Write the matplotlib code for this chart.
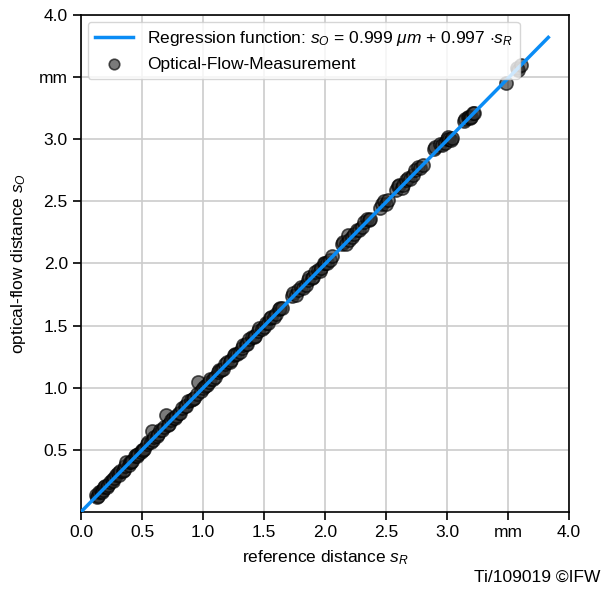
import matplotlib.pyplot as plt
import numpy as np

plt.rcParams['font.family'] = ['Liberation Sans', 'DejaVu Sans']
plt.rcParams['mathtext.fontset'] = 'custom'
plt.rcParams['mathtext.rm'] = 'Liberation Sans'
plt.rcParams['mathtext.it'] = 'Liberation Sans:italic'
plt.rcParams['font.size'] = 12.5

# measured points (reference distance, optical-flow distance) in mm
ref_x = [0.12, 0.13, 0.14, 0.15, 0.16, 0.17, 0.18, 0.19, 0.20, 0.21,
         0.22, 0.24, 0.25, 0.26, 0.27, 0.29, 0.30, 0.31, 0.32, 0.34,
         0.35, 0.36, 0.37, 0.39, 0.40, 0.41, 0.42, 0.44, 0.45, 0.46,
         0.47, 0.49, 0.50, 0.51, 0.52, 0.54, 0.55, 0.57, 0.58, 0.59,
         0.60, 0.62, 0.63, 0.65, 0.66, 0.68, 0.70, 0.71, 0.72, 0.74,
         0.75, 0.77, 0.78, 0.80, 0.81, 0.83, 0.85, 0.86, 0.88, 0.90,
         0.92, 0.93, 0.95, 0.96, 0.98, 1.00, 1.02, 1.03, 1.05, 1.06,
         1.08, 1.10, 1.12, 1.13, 1.15, 1.16, 1.18, 1.20, 1.22, 1.23,
         1.25, 1.26, 1.28, 1.30, 1.32, 1.33, 1.35, 1.36, 1.38, 1.40,
         1.42, 1.43, 1.45, 1.46, 1.48, 1.50, 1.52, 1.53, 1.55, 1.56,
         1.58, 1.60, 1.62, 1.63, 1.65, 1.73, 1.74, 1.76, 1.78, 1.80,
         1.82, 1.84, 1.86, 1.87, 1.89, 1.90, 1.92, 1.94, 1.96, 1.97,
         1.99, 2.00, 2.02, 2.04, 2.06, 2.14, 2.15, 2.17, 2.19, 2.20,
         2.22, 2.24, 2.26, 2.28, 2.30, 2.32, 2.34, 2.36, 2.37, 2.45,
         2.47, 2.48, 2.50, 2.52, 2.58, 2.60, 2.61, 2.63, 2.64, 2.66,
         2.68, 2.70, 2.72, 2.74, 2.76, 2.78, 2.80, 2.89, 2.90, 2.94,
         2.96, 2.98, 3.00, 3.01, 3.02, 3.03, 3.04, 3.14, 3.15, 3.17,
         3.18, 3.19, 3.20, 3.21, 3.22, 3.48, 3.57, 3.58, 3.61]
of_y = [0.14, 0.12, 0.13, 0.16, 0.17, 0.16, 0.18, 0.20, 0.21, 0.20,
        0.22, 0.24, 0.26, 0.25, 0.27, 0.30, 0.31, 0.30, 0.33, 0.33,
        0.34, 0.37, 0.40, 0.38, 0.40, 0.40, 0.41, 0.45, 0.46, 0.45,
        0.47, 0.48, 0.50, 0.50, 0.51, 0.55, 0.56, 0.56, 0.65, 0.58,
        0.60, 0.61, 0.63, 0.66, 0.66, 0.68, 0.78, 0.70, 0.71, 0.74,
        0.76, 0.76, 0.77, 0.80, 0.80, 0.84, 0.85, 0.85, 0.89, 0.90,
        0.91, 0.92, 0.95, 1.05, 0.97, 1.00, 1.01, 1.02, 1.05, 1.07,
        1.07, 1.09, 1.13, 1.14, 1.14, 1.15, 1.19, 1.21, 1.21, 1.22,
        1.26, 1.27, 1.27, 1.29, 1.32, 1.34, 1.35, 1.35, 1.39, 1.41,
        1.41, 1.42, 1.46, 1.48, 1.47, 1.49, 1.52, 1.52, 1.56, 1.57,
        1.57, 1.59, 1.63, 1.64, 1.64, 1.74, 1.76, 1.75, 1.79, 1.81,
        1.80, 1.83, 1.87, 1.89, 1.88, 1.89, 1.93, 1.95, 1.94, 1.96,
        2.00, 2.00, 2.00, 2.03, 2.06, 2.16, 2.17, 2.16, 2.23, 2.19,
        2.21, 2.24, 2.27, 2.27, 2.29, 2.33, 2.36, 2.35, 2.36, 2.45,
        2.48, 2.50, 2.48, 2.51, 2.59, 2.62, 2.63, 2.61, 2.63, 2.67,
        2.69, 2.68, 2.71, 2.75, 2.78, 2.77, 2.79, 2.92, 2.94, 2.96,
        2.95, 2.97, 3.00, 3.02, 3.00, 2.99, 3.01, 3.15, 3.16, 3.18,
        3.18, 3.17, 3.18, 3.21, 3.21, 3.45, 3.57, 3.56, 3.60]

# regression result
slope = 0.997
offset = 0.001
fit_x = [0.0, 3.83]

x_ticks = [0.0, 0.5, 1.0, 1.5, 2.0, 2.5, 3.0, 3.5, 4.0]
x_labels = ['0.0', '0.5', '1.0', '1.5', '2.0', '2.5', '3.0', 'mm', '4.0']
y_ticks = [0.5, 1.0, 1.5, 2.0, 2.5, 3.0, 3.5, 4.0]
y_labels = ['0.5', '1.0', '1.5', '2.0', '2.5', '3.0', 'mm', '4.0']

fig = plt.figure(figsize=(6.06, 6.0), dpi=100)
ax = fig.add_axes([0.1337, 0.1467, 0.8053, 0.8283])

fit_y = [offset + slope * v for v in fit_x]
ax.plot(fit_x, fit_y, color='#0a8cf5', lw=2.5, zorder=3,
        label=r'Regression function: $s_O$ = 0.999 $\mu m$ + 0.997 $\cdot s_R$')
ax.scatter(ref_x, of_y, s=90, facecolor='#333333', edgecolor='black',
           alpha=0.65, lw=1.2, zorder=2, label='Optical-Flow-Measurement')

ax.set_xlim(0, 4)
ax.set_ylim(0, 4)
ax.set_xticks(x_ticks)
ax.set_xticklabels(x_labels)
ax.set_yticks(y_ticks)
ax.set_yticklabels(y_labels)
ax.tick_params(direction='out', length=6, width=1.2, labelsize=12.5)
ax.grid(True, color='#cccccc', lw=1.2)
ax.set_axisbelow(True)
for s in ax.spines.values():
    s.set_linewidth(1.2)

ax.set_xlabel(r'reference distance $s_R$', labelpad=6)
ax.set_ylabel(r'optical-flow distance $s_O$', labelpad=8)

ax.legend(loc='upper left', framealpha=0.8, markerscale=0.8,
          borderaxespad=0.4, handlelength=2.2)

fig.text(0.99, 0.025, 'Ti/109019 ©IFW', ha='right', va='bottom')

fig.savefig('out.png', dpi=100)
